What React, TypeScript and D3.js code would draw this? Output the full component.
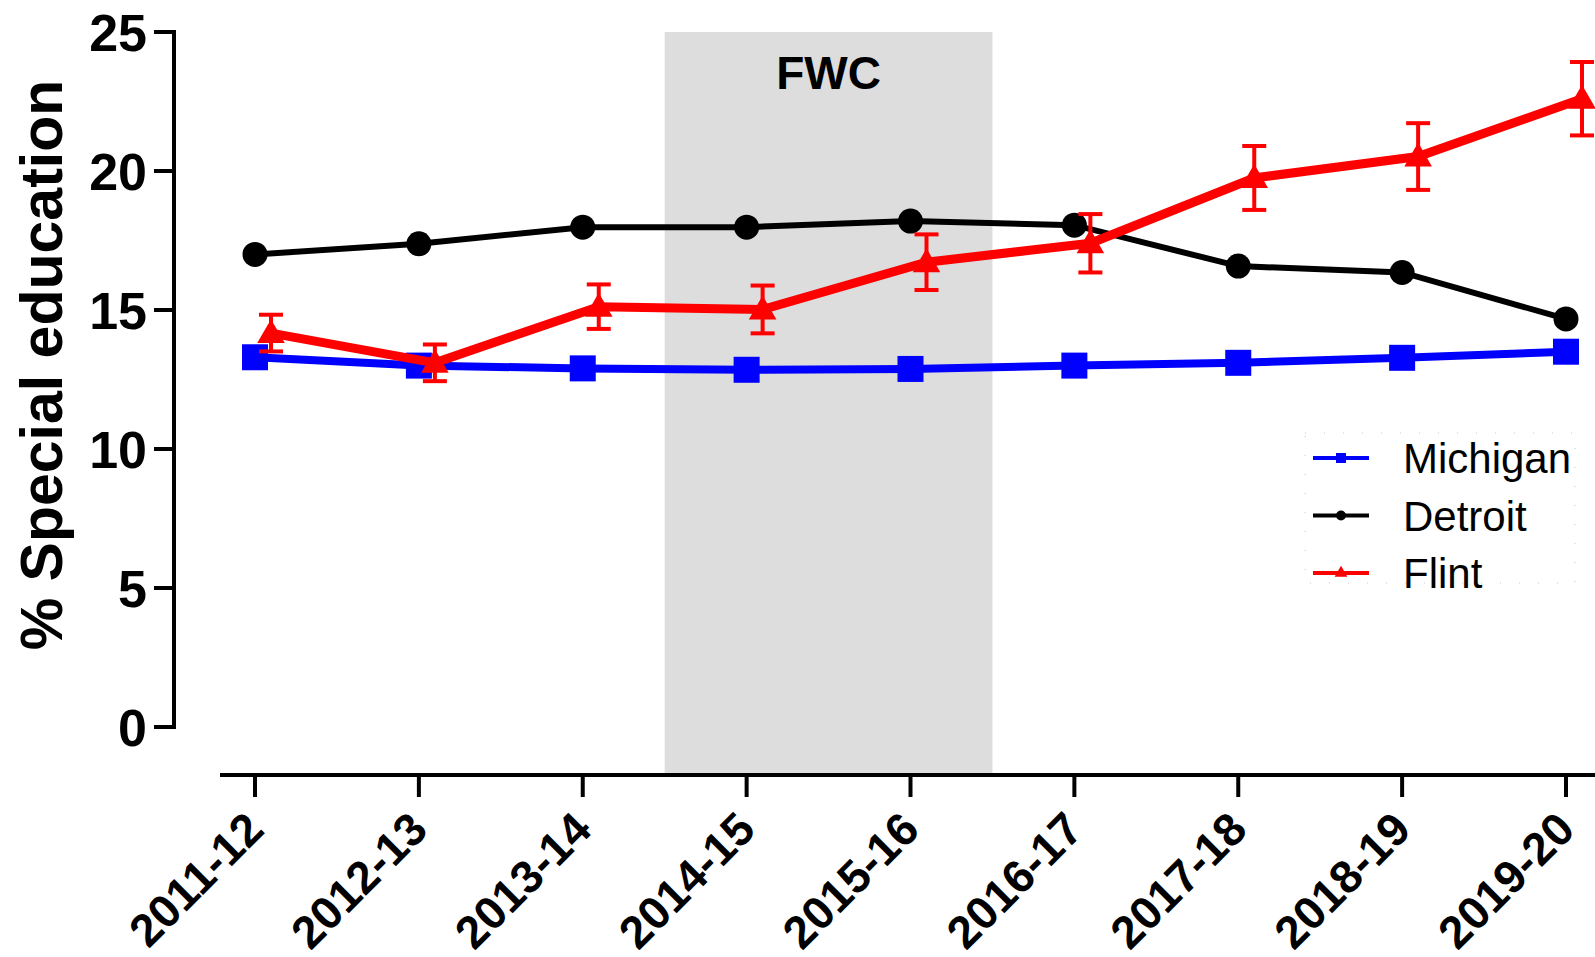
import React from "react";
import * as d3 from "d3";

const years = ["2011-12", "2012-13", "2013-14", "2014-15", "2015-16", "2016-17", "2017-18", "2018-19", "2019-20"];
const michigan = [13.3, 13.0, 12.9, 12.85, 12.88, 13.0, 13.1, 13.28, 13.5];
const detroit = [17.0, 17.38, 17.98, 17.98, 18.2, 18.05, 16.58, 16.35, 14.68];
const flint = [14.17, 13.1, 15.12, 15.02, 16.72, 17.4, 19.75, 20.52, 22.6];
const flintErr = [0.66, 0.66, 0.8, 0.86, 1.0, 1.05, 1.15, 1.2, 1.32];
const yTicks = [0, 5, 10, 15, 20, 25];
const bandRange = [2.5, 4.5];
const bandLabel = "FWC";
const yTitle = "% Special education";
const legendItems = ["Michigan", "Detroit", "Flint"];

const W = 1595;
const H = 957;
const FONT = "'Liberation Sans', Arial, Helvetica, sans-serif";

export default function App() {
  const x = d3.scaleLinear().domain([0, years.length - 1]).range([255, 1566]);
  const y = d3.scaleLinear().domain([0, 25]).range([727, 32]);
  const flintDx = 16;

  const line = (vals: number[], dx = 0) =>
    d3.line<number>().x((_, i) => x(i) + dx).y((v) => y(v))(vals) || "";

  const tri = d3.symbol().type(d3.symbolTriangle).size(330)() || "";
  const triSmall = d3.symbol().type(d3.symbolTriangle).size(70)() || "";

  const axisY = 174;
  const axisXy = 775;

  return (
    <svg width={W} height={H} style={{ position: "absolute", left: 0, top: 0, background: "#fff" }} fontFamily={FONT}>
      {/* FWC band */}
      <rect x={x(bandRange[0])} y={y(25)} width={x(bandRange[1]) - x(bandRange[0])} height={axisXy - y(25)} fill="#dddddd" />
      <text x={(x(bandRange[0]) + x(bandRange[1])) / 2} y={89} textAnchor="middle" fontWeight="bold" fontSize={46} fill="#000">{bandLabel}</text>

      {/* Y axis */}
      <line x1={axisY} x2={axisY} y1={y(25) - 2} y2={y(0) + 2} stroke="#000" strokeWidth={4} />
      {yTicks.map((t) => (
        <g key={t}>
          <line x1={154} x2={axisY} y1={y(t)} y2={y(t)} stroke="#000" strokeWidth={4} />
          <text x={147} y={y(t)} dy="0.36em" textAnchor="end" fontWeight="bold" fontSize={52}>{t}</text>
        </g>
      ))}
      <text transform={`translate(62, 365) rotate(-90)`} textAnchor="middle" fontWeight="bold" fontSize={59}>{yTitle}</text>

      {/* X axis */}
      <line x1={220} x2={W} y1={axisXy} y2={axisXy} stroke="#000" strokeWidth={4} />
      {years.map((yr, i) => (
        <g key={yr}>
          <line x1={x(i)} x2={x(i)} y1={axisXy} y2={797} stroke="#000" strokeWidth={4} />
          <text transform={`translate(${x(i) + 11}, 832) rotate(-45)`} textAnchor="end" fontWeight="bold" fontSize={46}>{yr}</text>
        </g>
      ))}

      {/* Michigan */}
      <path d={line(michigan)} fill="none" stroke="#0000ff" strokeWidth={8} />
      {michigan.map((v, i) => (
        <rect key={i} x={x(i) - 13} y={y(v) - 13} width={26} height={26} fill="#0000ff" />
      ))}

      {/* Detroit */}
      <path d={line(detroit)} fill="none" stroke="#000" strokeWidth={6} />
      {detroit.map((v, i) => (
        <circle key={i} cx={x(i)} cy={y(v)} r={12.5} fill="#000" />
      ))}

      {/* Flint */}
      <path d={line(flint, flintDx)} fill="none" stroke="#ff0000" strokeWidth={9} />
      {flint.map((v, i) => {
        const cx = x(i) + flintDx;
        return (
          <g key={i}>
            <line x1={cx} x2={cx} y1={y(v + flintErr[i])} y2={y(v - flintErr[i])} stroke="#ff0000" strokeWidth={4} />
            <line x1={cx - 12} x2={cx + 12} y1={y(v + flintErr[i])} y2={y(v + flintErr[i])} stroke="#ff0000" strokeWidth={4} />
            <line x1={cx - 12} x2={cx + 12} y1={y(v - flintErr[i])} y2={y(v - flintErr[i])} stroke="#ff0000" strokeWidth={4} />
            <path d={tri} transform={`translate(${cx}, ${y(v) + 2})`} fill="#ff0000" />
          </g>
        );
      })}

      {/* Legend */}
      <rect x={1305} y={433} width={270} height={150} fill="#fff" stroke="#c8c8c8" strokeWidth={1} strokeDasharray="1 18" />
      {legendItems.map((name, i) => {
        const ly = 458 + i * 57.5;
        const color = i === 0 ? "#0000ff" : i === 1 ? "#000" : "#ff0000";
        return (
          <g key={name}>
            <line x1={1313} x2={1369} y1={ly} y2={ly} stroke={color} strokeWidth={4} />
            {i === 0 && <rect x={1336} y={ly - 5} width={10} height={10} fill={color} />}
            {i === 1 && <circle cx={1341} cy={ly} r={5} fill={color} />}
            {i === 2 && <path d={triSmall} transform={`translate(1341, ${ly})`} fill={color} />}
            <text x={1403} y={ly + 15} fontSize={42} fill="#000">{name}</text>
          </g>
        );
      })}
    </svg>
  );
}
